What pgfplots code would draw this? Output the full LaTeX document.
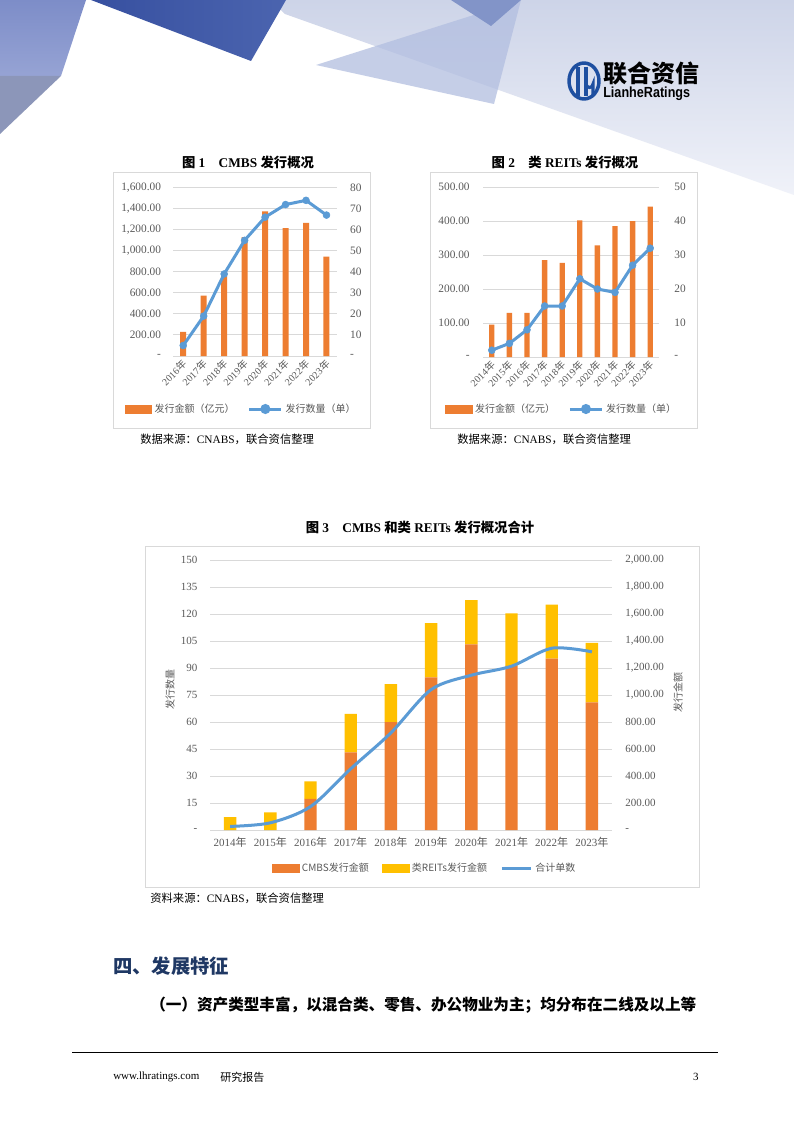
\documentclass[border=0pt]{standalone}
\usepackage{fontspec}
\setmainfont{Liberation Serif}
\newfontfamily\cjk{Noto Sans CJK SC}
\newfontfamily\lsans{Liberation Sans}
\usepackage{pgfplots}
\pgfplotsset{compat=1.18}
\definecolor{cmbsorange}{HTML}{ED7D31}
\definecolor{lineblue}{HTML}{5B9BD5}
\definecolor{reitsyellow}{HTML}{FFC000}
\definecolor{tickgray}{HTML}{595959}
\definecolor{gridgray}{HTML}{D9D9D9}
\definecolor{navy}{HTML}{1F3864}
\definecolor{logoblue}{HTML}{1E4FA0}
\definecolor{bandtop}{RGB}{205,212,232}
\definecolor{bandbot}{RGB}{240,242,249}
\definecolor{midtri}{RGB}{178,190,224}
\definecolor{darktri}{RGB}{130,148,200}
\definecolor{lefttop}{RGB}{125,141,200}
\definecolor{leftbot}{RGB}{150,163,212}
\definecolor{leftgray}{RGB}{140,150,185}
\definecolor{dblue1}{RGB}{55,80,160}
\definecolor{dblue2}{RGB}{75,100,175}
\newcommand{\nian}{{\cjk 年}}
\pgfplotsset{
  base/.style={scale only axis, anchor=south west,
    tick style={draw=none}, major tick length=0pt,
    axis line style={draw=none},
    ticklabel style={font=\fontsize{8.5}{10}\selectfont, text=tickgray},
    grid style={gridgray, line width=0.75pt}},
  barleg/.style={legend image code/.code={\fill[#1] (0pt,-3pt) rectangle (20pt,3pt);}},
}
\begin{document}
\begin{tikzpicture}
\begin{scope}[x=0.75pt,y=-0.75pt]
\useasboundingbox (0,0) rectangle (794,1123);
\fill[white] (0,0) rectangle (794,1123);
% header decoration
\shade[top color=bandtop, bottom color=bandbot]
  (270,0) -- (794,0) -- (794,195) -- (285,14) -- cycle;
\fill[midtri, opacity=0.75] (316,65) -- (521,0) -- (494,104) -- cycle;
\fill[darktri] (451,0) -- (521,0) -- (491,26) -- cycle;
\shade[top color=lefttop, bottom color=leftbot]
  (0,0) -- (86,0) -- (61,76) -- (0,76) -- cycle;
\fill[leftgray] (0,76) -- (61,76) -- (0,134) -- cycle;
\shade[left color=dblue1, right color=dblue2]
  (91,0) -- (286,0) -- (251,61) -- cycle;
% logo
\draw[logoblue, line width=2.6pt] (584,81) ellipse (15 and 18);
\draw[logoblue, line width=2.4pt] (578,67) -- (578,96);
\draw[logoblue, line width=2.4pt] (586,67) -- (586,96);
\draw[logoblue, line width=2.4pt] (586,84) arc (180:0:3.5) -- (593,96);
\node[anchor=west, inner sep=0pt] at (603,73) {\cjk\bfseries\fontsize{18}{18}\selectfont 联合资信};
\node[anchor=west, inner sep=0pt] at (603,94) {\lsans\bfseries\fontsize{11}{11}\selectfont\scalebox{0.86}[1]{LianheRatings}};
% chart frames
\draw[gridgray, line width=0.75pt] (113,173) rectangle (370,428);
\draw[gridgray, line width=0.75pt] (430,173) rectangle (697,428);
\draw[gridgray, line width=0.75pt] (145,546) rectangle (699,887);
% titles
\node at (248,162) {\fontsize{10}{12}\selectfont{\cjk\bfseries 图}\textbf{ 1\quad CMBS }{\cjk\bfseries 发行概况}};
\node at (565,162) {\fontsize{10}{12}\selectfont{\cjk\bfseries 图}\textbf{ 2\quad}{\cjk\bfseries 类}\textbf{ REITs }{\cjk\bfseries 发行概况}};
\node at (420,527) {\fontsize{10}{12}\selectfont{\cjk\bfseries 图}\textbf{ 3\quad CMBS }{\cjk\bfseries 和类}\textbf{ REITs }{\cjk\bfseries 发行概况合计}};
% sources
\node[anchor=west, inner sep=0pt] at (140,439) {\fontsize{8.5}{10}\selectfont{\cjk 数据来源：}CNABS{\cjk ，联合资信整理}};
\node[anchor=west, inner sep=0pt] at (457,439) {\fontsize{8.5}{10}\selectfont{\cjk 数据来源：}CNABS{\cjk ，联合资信整理}};
\node[anchor=west, inner sep=0pt] at (150,898) {\fontsize{8.5}{10}\selectfont{\cjk 资料来源：}CNABS{\cjk ，联合资信整理}};
% body text
\node[anchor=west, inner sep=0pt, text=navy] at (113,966) {\cjk\bfseries\fontsize{14.5}{16}\selectfont 四、发展特征};
\node[anchor=west, inner sep=0pt] at (150,1005) {\cjk\bfseries\fontsize{11.7}{14}\selectfont （一）资产类型丰富，以混合类、零售、办公物业为主；均分布在二线及以上等};
\draw[line width=0.75pt] (72,1052) -- (718,1052);
\node[anchor=west, inner sep=0pt] at (113,1077) {\fontsize{8.25}{10}\selectfont www.lhratings.com};
\node[anchor=west, inner sep=0pt] at (220,1077) {\cjk\fontsize{8.25}{10}\selectfont 研究报告};
\node[anchor=east, inner sep=0pt] at (699,1077) {\fontsize{8.25}{10}\selectfont 3};
\end{scope}

% ================= Chart 1 =================
\begin{axis}[base, at={(129.75pt,-267pt)}, width=122.8pt, height=126.2pt,
  xmin=-0.5, xmax=7.5, ymin=0, ymax=1600,
  ymajorgrids,
  ytick={0,200,...,1600},
  yticklabels={-\hspace{5pt},200.00,400.00,600.00,800.00,{1,000.00},{1,200.00},{1,400.00},{1,600.00}},
  yticklabel style={xshift=-5.5pt},
  xtick={0,...,7},
  xticklabels={2016\nian,2017\nian,2018\nian,2019\nian,2020\nian,2021\nian,2022\nian,2023\nian},
  xticklabel style={rotate=45, anchor=east, font=\fontsize{7.5}{8}\selectfont, xshift=1pt, yshift=-4pt},
]
\addplot[ybar, bar width=4.5pt, fill=cmbsorange, draw=none]
  coordinates {(0,230) (1,575) (2,790) (3,1130) (4,1375) (5,1215) (6,1265) (7,945)};
\end{axis}
\begin{axis}[base, at={(129.75pt,-267pt)}, width=122.8pt, height=126.2pt,
  xmin=-0.5, xmax=7.5, ymin=0, ymax=80,
  axis y line*=right, axis x line=none, xtick=\empty,
  ytick={0,10,...,80}, yticklabels={-,10,20,30,40,50,60,70,80},
  yticklabel style={xshift=6.5pt},
  legend style={at={(0.418,-0.315)}, anchor=center, draw=none, fill=none,
    legend columns=2, font=\fontsize{7.5}{9}\selectfont, text=tickgray,
    /tikz/every even column/.append style={column sep=8pt}},
]
\addlegendimage{barleg=cmbsorange}
\addlegendentry{\cjk 发行金额（亿元）}
\addplot[lineblue, line width=2.25pt, mark=*, mark size=2.6pt,
  mark options={line width=0.4pt, fill=lineblue, draw=lineblue},
  legend image code/.code={\draw[lineblue, line width=2.25pt] (0pt,0pt) -- (24pt,0pt);
    \fill[lineblue] (12pt,0pt) circle (2.6pt);}]
  coordinates {(0,5) (1,19) (2,39) (3,55) (4,66) (5,72) (6,74) (7,67)};
\addlegendentry{\cjk 发行数量（单）}
\end{axis}

% ================= Chart 2 =================
\begin{axis}[base, at={(362.25pt,-267.75pt)}, width=132pt, height=127.5pt,
  xmin=-0.5, xmax=9.5, ymin=0, ymax=500,
  ymajorgrids,
  ytick={0,100,...,500},
  yticklabels={-\hspace{5pt},100.00,200.00,300.00,400.00,500.00},
  yticklabel style={xshift=-6.5pt},
  xtick={0,...,9},
  xticklabels={2014\nian,2015\nian,2016\nian,2017\nian,2018\nian,2019\nian,2020\nian,2021\nian,2022\nian,2023\nian},
  xticklabel style={rotate=45, anchor=east, font=\fontsize{7.5}{8}\selectfont, xshift=1pt, yshift=-4pt},
]
\addplot[ybar, bar width=4pt, fill=cmbsorange, draw=none]
  coordinates {(0,95) (1,130) (2,130) (3,285) (4,277) (5,402) (6,328) (7,385) (8,400) (9,442)};
\end{axis}
\begin{axis}[base, at={(362.25pt,-267.75pt)}, width=132pt, height=127.5pt,
  xmin=-0.5, xmax=9.5, ymin=0, ymax=50,
  axis y line*=right, axis x line=none, xtick=\empty,
  ytick={0,10,...,50}, yticklabels={-,10,20,30,40,50},
  yticklabel style={xshift=8pt},
  legend style={at={(0.449,-0.306)}, anchor=center, draw=none, fill=none,
    legend columns=2, font=\fontsize{7.5}{9}\selectfont, text=tickgray,
    /tikz/every even column/.append style={column sep=8pt}},
]
\addlegendimage{barleg=cmbsorange}
\addlegendentry{\cjk 发行金额（亿元）}
\addplot[lineblue, line width=2.25pt, mark=*, mark size=2.6pt,
  mark options={line width=0.4pt, fill=lineblue, draw=lineblue},
  legend image code/.code={\draw[lineblue, line width=2.25pt] (0pt,0pt) -- (24pt,0pt);
    \fill[lineblue] (12pt,0pt) circle (2.6pt);}]
  coordinates {(0,2) (1,4) (2,8) (3,15) (4,15) (5,23) (6,20) (7,19) (8,27) (9,32)};
\addlegendentry{\cjk 发行数量（单）}
\end{axis}

% ================= Chart 3 =================
\begin{axis}[base, at={(157.5pt,-622.5pt)}, width=301.5pt, height=202.5pt,
  ybar stacked, bar width=9.3pt,
  xmin=-0.5, xmax=9.5, ymin=0, ymax=2000,
  axis y line*=right, axis x line*=bottom,
  ymajorgrids,
  ticklabel style={font=\fontsize{8.25}{10}\selectfont},
  ytick={0,200,...,2000},
  yticklabels={-,200.00,400.00,600.00,800.00,{1,000.00},{1,200.00},{1,400.00},{1,600.00},{1,800.00},{2,000.00}},
  yticklabel style={xshift=6.5pt},
  xtick={0,...,9},
  xticklabels={2014\nian,2015\nian,2016\nian,2017\nian,2018\nian,2019\nian,2020\nian,2021\nian,2022\nian,2023\nian},
  xticklabel style={yshift=-2pt},
  ylabel={\cjk 发行金额},
  every axis y label/.style={at={(axis description cs:1.164,0.51)}, rotate=90, anchor=center,
    font=\fontsize{7.5}{9}\selectfont, text=tickgray},
]
\addplot[fill=cmbsorange, draw=none]
  coordinates {(0,0) (1,0) (2,230) (3,575) (4,800) (5,1130) (6,1375) (7,1215) (8,1270) (9,945)};
\addplot[fill=reitsyellow, draw=none]
  coordinates {(0,95) (1,130) (2,130) (3,285) (4,280) (5,402) (6,328) (7,390) (8,400) (9,442)};
\end{axis}
\begin{axis}[base, at={(157.5pt,-622.5pt)}, width=301.5pt, height=202.5pt,
  xmin=-0.5, xmax=9.5, ymin=0, ymax=150,
  axis y line*=left, axis x line=none, xtick=\empty,
  ticklabel style={font=\fontsize{8.25}{10}\selectfont},
  ytick={0,15,...,150}, yticklabels={-\hspace{4pt},15,30,45,60,75,90,105,120,135,150},
  yticklabel style={xshift=-6pt},
  ylabel={\cjk 发行数量},
  every axis y label/.style={at={(axis description cs:-0.0995,0.52)}, rotate=90, anchor=center,
    font=\fontsize{7.5}{9}\selectfont, text=tickgray},
  legend style={at={(0.535,-0.141)}, anchor=center, draw=none, fill=none,
    legend columns=3, font=\cjk\fontsize{7.5}{9}\selectfont, text=tickgray,
    /tikz/every even column/.append style={column sep=8pt}},
]
\addlegendimage{barleg=cmbsorange}
\addlegendentry{CMBS发行金额}
\addlegendimage{barleg=reitsyellow}
\addlegendentry{类REITs发行金额}
\addplot[lineblue, line width=2.25pt, smooth, mark=none,
  legend image code/.code={\draw[lineblue, line width=2.25pt] (0pt,0pt) -- (22pt,0pt);}]
  coordinates {(0,2) (1,4) (2,13) (3,34) (4,54) (5,78) (6,86) (7,91) (8,101) (9,99)};
\addlegendentry{合计单数}
\end{axis}
\end{tikzpicture}
\end{document}
